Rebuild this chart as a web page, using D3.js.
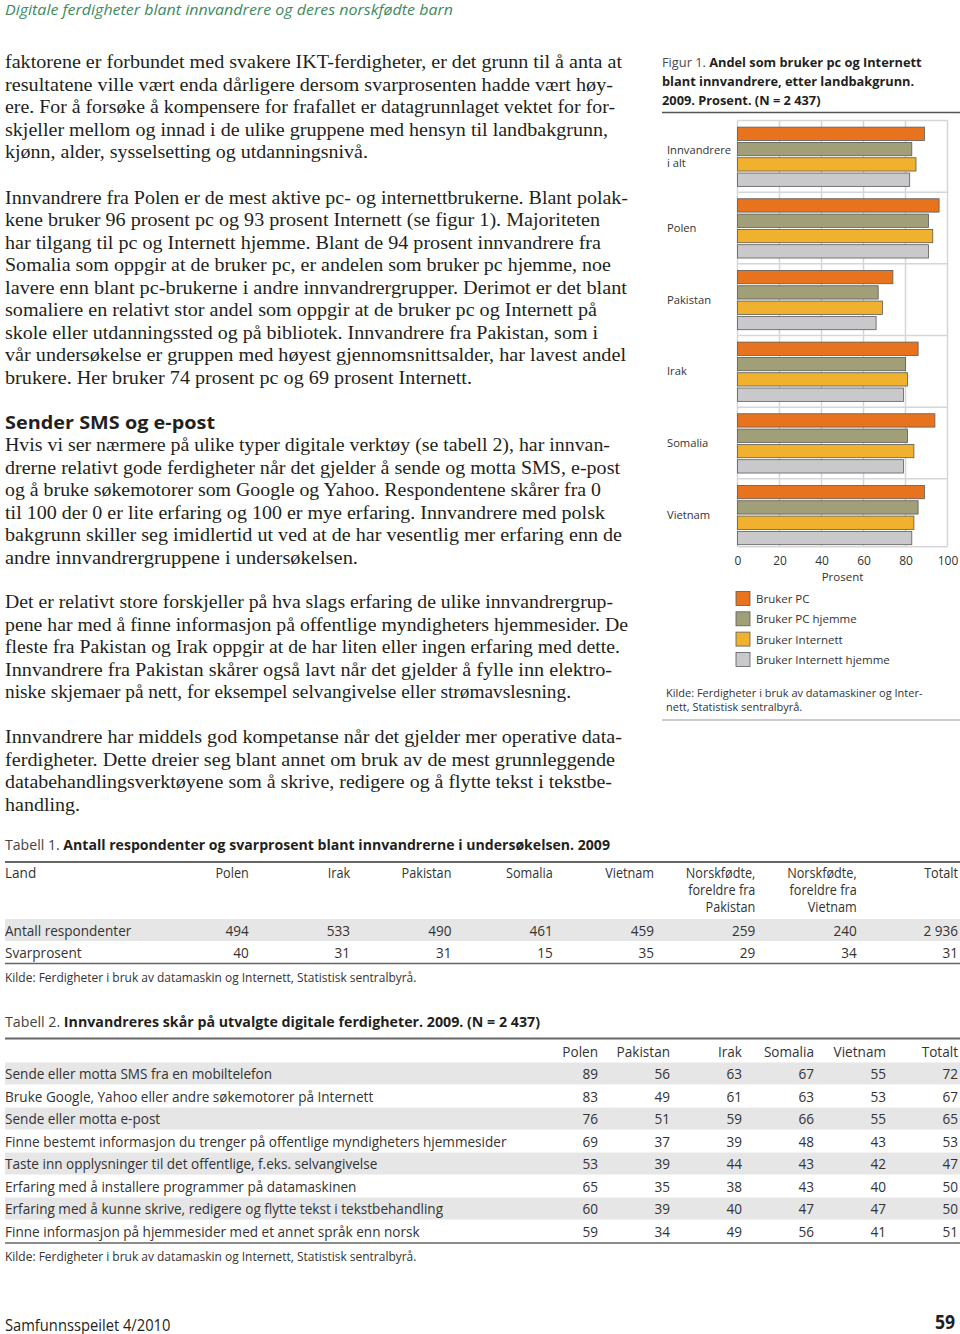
<!DOCTYPE html>
<html><head><meta charset="utf-8">
<script src="https://cdn.jsdelivr.net/npm/d3@7"></script>
<style>body{margin:0;background:#fff} svg{display:block}</style>
</head><body><svg id="page" width="960" height="1334"></svg>
<script>
// ---------- DATA ----------
const categories = ["Innvandrere i alt", "Polen", "Pakistan", "Irak", "Somalia", "Vietnam"];
const categoryLabels = [["Innvandrere", "i alt"], ["Polen"], ["Pakistan"], ["Irak"], ["Somalia"], ["Vietnam"]];
const seriesNames = ["Bruker PC", "Bruker PC hjemme", "Bruker Internett", "Bruker Internett hjemme"];
const brukerPC = [89, 96, 74, 86, 94, 89];
const brukerPCHjemme = [83, 91, 67, 80, 81, 86];
const brukerInternett = [85, 93, 69, 81, 84, 84];
const brukerInternettHjemme = [82, 91, 66, 79, 79, 83];
const xTicks = [0, 20, 40, 60, 80, 100];
const seriesColors = ["#e8731e", "#a09f78", "#f0b12e", "#c9c9cb"];

const t1Columns = ["Polen", "Irak", "Pakistan", "Somalia", "Vietnam", ["Norskfødte,", "foreldre fra", "Pakistan"], ["Norskfødte,", "foreldre fra", "Vietnam"], "Totalt"];
const t1Rows = ["Antall respondenter", "Svarprosent"];
const t1Antall = ["494", "533", "490", "461", "459", "259", "240", "2 936"];
const t1Svarprosent = [40, 31, 31, 15, 35, 29, 34, 31];

const t2Columns = ["Polen", "Pakistan", "Irak", "Somalia", "Vietnam", "Totalt"];
const t2Rows = [
  "Sende eller motta SMS fra en mobiltelefon",
  "Bruke Google, Yahoo eller andre søkemotorer på Internett",
  "Sende eller motta e-post",
  "Finne bestemt informasjon du trenger på offentlige myndigheters hjemmesider",
  "Taste inn opplysninger til det offentlige, f.eks. selvangivelse",
  "Erfaring med å installere programmer på datamaskinen",
  "Erfaring med å kunne skrive, redigere og flytte tekst i tekstbehandling",
  "Finne informasjon på hjemmesider med et annet språk enn norsk"
];
const t2Polen = [89, 83, 76, 69, 53, 65, 60, 59];
const t2Pakistan = [56, 49, 51, 37, 39, 35, 39, 34];
const t2Irak = [63, 61, 59, 39, 44, 38, 40, 49];
const t2Somalia = [67, 63, 66, 48, 43, 43, 47, 56];
const t2Vietnam = [55, 53, 55, 43, 42, 40, 47, 41];
const t2Totalt = [72, 67, 65, 53, 47, 50, 50, 51];

// ---------- BODY TEXT (text + right edge of line) ----------
const para1 = [
  ["faktorene er forbundet med svakere IKT-ferdigheter, er det grunn til å anta at", 622],
  ["resultatene ville vært enda dårligere dersom svarprosenten hadde vært høy-", 613],
  ["ere. For å forsøke å kompensere for frafallet er datagrunnlaget vektet for for-", 615],
  ["skjeller mellom og innad i de ulike gruppene med hensyn til landbakgrunn,", 608],
  ["kjønn, alder, sysselsetting og utdanningsnivå.", 368]
];
const para2 = [
  ["Innvandrere fra Polen er de mest aktive pc- og internettbrukerne. Blant polak-", 628],
  ["kene bruker 96 prosent pc og 93 prosent Internett (se figur 1). Majoriteten", 600],
  ["har tilgang til pc og Internett hjemme. Blant de 94 prosent innvandrere fra", 601],
  ["Somalia som oppgir at de bruker pc, er andelen som bruker pc hjemme, noe", 611],
  ["lavere enn blant pc-brukerne i andre innvandrergrupper. Derimot er det blant", 627],
  ["somaliere en relativt stor andel som oppgir at de bruker pc og Internett på", 597],
  ["skole eller utdanningssted og på bibliotek. Innvandrere fra Pakistan, som i", 598],
  ["vår undersøkelse er gruppen med høyest gjennomsnittsalder, har lavest andel", 626],
  ["brukere. Her bruker 74 prosent pc og 69 prosent Internett.", 472]
];
const para3 = [
  ["Hvis vi ser nærmere på ulike typer digitale verktøy (se tabell 2), har innvan-", 610],
  ["drerne relativt gode ferdigheter når det gjelder å sende og motta SMS, e-post", 620],
  ["og å bruke søkemotorer som Google og Yahoo. Respondentene skårer fra 0", 601],
  ["til 100 der 0 er lite erfaring og 100 er mye erfaring. Innvandrere med polsk", 605],
  ["bakgrunn skiller seg imidlertid ut ved at de har vesentlig mer erfaring enn de", 622],
  ["andre innvandrergruppene i undersøkelsen.", 358]
];
const para4 = [
  ["Det er relativt store forskjeller på hva slags erfaring de ulike innvandrergrup-", 613],
  ["pene har med å finne informasjon på offentlige myndigheters hjemmesider. De", 628],
  ["fleste fra Pakistan og Irak oppgir at de har liten eller ingen erfaring med dette.", 620],
  ["Innvandrere fra Pakistan skårer også lavt når det gjelder å fylle inn elektro-", 612],
  ["niske skjemaer på nett, for eksempel selvangivelse eller strømavslesning.", 571]
];
const para5 = [
  ["Innvandrere har middels god kompetanse når det gjelder mer operative data-", 622],
  ["ferdigheter. Dette dreier seg blant annet om bruk av de mest grunnleggende", 615],
  ["databehandlingsverktøyene som å skrive, redigere og å flytte tekst i tekstbe-", 612],
  ["handling.", 80]
];

// ---------- DRAW ----------
const svg = d3.select("#page");
const SERIF = "'Liberation Serif', 'DejaVu Serif', serif";
const SANS = "'Open Sans', 'Noto Sans', sans-serif";
const TXT = "#231f20";

// page header
svg.append("text").attr("x", 5).attr("y", 15)
  .attr("font-family", SANS).attr("font-style", "italic").attr("font-size", 14)
  .attr("fill", "#3e8a5e").attr("textLength", 448).attr("lengthAdjust", "spacingAndGlyphs")
  .text("Digitale ferdigheter blant innvandrere og deres norskfødte barn");

function paragraph(lines, y0) {
  lines.forEach(([t, right], i) => {
    svg.append("text").attr("x", 5).attr("y", y0 + i * 22.5)
      .attr("font-family", SERIF).attr("font-size", 18.5).attr("fill", TXT)
      .attr("textLength", right - 5).attr("lengthAdjust", "spacingAndGlyphs")
      .text(t);
  });
}
paragraph(para1, 68);
paragraph(para2, 203.5);
svg.append("text").attr("x", 5).attr("y", 428.5)
  .attr("font-family", SANS).attr("font-weight", "bold").attr("font-size", 17.5).attr("fill", TXT)
  .attr("textLength", 210).attr("lengthAdjust", "spacingAndGlyphs")
  .text("Sender SMS og e-post");
paragraph(para3, 451);
paragraph(para4, 608);
paragraph(para5, 743);

// ---------- FIGURE 1 ----------
const titleLines = [["Figur 1. ", "Andel som bruker pc og Internett"], ["", "blant innvandrere, etter landbakgrunn."], ["", "2009. Prosent. (N = 2 437)"]];
titleLines.forEach(([a, b], i) => {
  const t = svg.append("text").attr("x", 662).attr("y", 67 + i * 19)
    .attr("font-family", SANS).attr("font-size", 12.8).attr("fill", TXT);
  if (a) t.append("tspan").attr("fill", "#4a4a4a").text(a);
  t.append("tspan").attr("font-weight", "bold").text(b);
});
svg.append("line").attr("x1", 662).attr("x2", 960).attr("y1", 112.5).attr("y2", 112.5)
  .attr("stroke", "#555").attr("stroke-width", 1.3);

const x = d3.scaleLinear().domain([0, 100]).range([737.5, 947.5]);
const y0 = d3.scaleBand().domain(categories).range([120.5, 550.5]);
const y1 = d3.scaleBand().domain(seriesNames).range([6.6, y0.bandwidth() - 5.8]).paddingInner(0.13);
const plotBottom = y0(categories[categories.length - 1]) + y1(seriesNames[3]) + y1.bandwidth() + 2;

const grid = svg.append("g");
grid.selectAll("line.v").data(xTicks).join("line")
  .attr("x1", d => x(d)).attr("x2", d => x(d)).attr("y1", y0.range()[0]).attr("y2", plotBottom)
  .attr("stroke", "#d6d6d6").attr("stroke-width", 1.5);
grid.selectAll("line.h").data(categories).join("line")
  .attr("x1", x(0)).attr("x2", x(100)).attr("y1", d => y0(d)).attr("y2", d => y0(d))
  .attr("stroke", "#d6d6d6").attr("stroke-width", 1.5);
grid.append("line").attr("x1", x(0)).attr("x2", x(100)).attr("y1", plotBottom).attr("y2", plotBottom)
  .attr("stroke", "#d6d6d6").attr("stroke-width", 1.5);

const seriesValues = [brukerPC, brukerPCHjemme, brukerInternett, brukerInternettHjemme];
const barData = [];
categories.forEach((c, ci) => seriesNames.forEach((s, si) => barData.push({ c, s, si, v: seriesValues[si][ci] })));
svg.append("g").selectAll("rect").data(barData).join("rect")
  .attr("x", x(0)).attr("y", d => y0(d.c) + y1(d.s))
  .attr("width", d => x(d.v) - x(0)).attr("height", y1.bandwidth())
  .attr("fill", d => seriesColors[d.si]).attr("stroke", "#5a5a5a").attr("stroke-width", 0.8);

// category labels
categories.forEach((c, i) => {
  const lines = categoryLabels[i];
  const cy = y0(c) + y0.bandwidth() / 2;
  lines.forEach((l, j) => {
    svg.append("text").attr("x", 667).attr("y", cy + 4 + (j - (lines.length - 1) / 2) * 12.5)
      .attr("font-family", SANS).attr("font-size", 11.2).attr("fill", "#333").text(l);
  });
});

// x axis
const xAxis = svg.append("g").attr("transform", `translate(0,${plotBottom})`)
  .call(d3.axisBottom(x).tickValues(xTicks).tickSize(0).tickPadding(10));
xAxis.select(".domain").remove();
xAxis.selectAll("text").attr("font-family", SANS).attr("font-size", 12).attr("fill", "#333");
svg.append("text").attr("x", (x(0) + x(100)) / 2).attr("y", 580.5).attr("text-anchor", "middle")
  .attr("font-family", SANS).attr("font-size", 11.5).attr("fill", "#333").text("Prosent");

// legend
const lg = svg.append("g").selectAll("g").data(seriesNames).join("g")
  .attr("transform", (d, i) => `translate(736,${591.5 + i * 20.3})`);
lg.append("rect").attr("width", 14).attr("height", 14)
  .attr("fill", (d, i) => seriesColors[i]).attr("stroke", "#5a5a5a").attr("stroke-width", 0.8);
lg.append("text").attr("x", 20).attr("y", 11.5).attr("font-family", SANS).attr("font-size", 11.5)
  .attr("fill", "#333").text(d => d);

["Kilde: Ferdigheter i bruk av datamaskiner og Inter-", "nett, Statistisk sentralbyrå."].forEach((l, i) => {
  svg.append("text").attr("x", 666).attr("y", 697 + i * 14).attr("font-family", SANS)
    .attr("font-size", 11).attr("fill", "#333").text(l);
});
svg.append("line").attr("x1", 662).attr("x2", 960).attr("y1", 720).attr("y2", 720)
  .attr("stroke", "#9a9a9a").attr("stroke-width", 1.2);

// ---------- TABLES ----------
const SX = 0.905;
function ctext(xp, yp, str, anchor, opts = {}) {
  return svg.append("text").attr("transform", `translate(${xp},${yp}) scale(${opts.sx || SX},1)`)
    .attr("text-anchor", anchor || "start").attr("font-family", SANS)
    .attr("font-size", opts.size || 15).attr("font-weight", opts.weight || "normal")
    .attr("fill", opts.fill || "#333").text(str);
}
function tableTitle(yp, num, title, width) {
  const t = svg.append("text").attr("x", 5).attr("y", yp).attr("font-family", SANS)
    .attr("font-size", 14.5).attr("fill", TXT).attr("textLength", width).attr("lengthAdjust", "spacingAndGlyphs");
  t.append("tspan").attr("fill", "#444").text(num + " ");
  t.append("tspan").attr("font-weight", "bold").text(title);
}

// Table 1
tableTitle(850, "Tabell 1.", "Antall respondenter og svarprosent blant innvandrerne i undersøkelsen. 2009", 605);
svg.append("line").attr("x1", 5).attr("x2", 960).attr("y1", 862).attr("y2", 862).attr("stroke", "#666").attr("stroke-width", 2);
const c1 = d3.scaleBand().domain(d3.range(t1Columns.length)).range([147.5, 958]);
ctext(5, 878, "Land");
t1Columns.forEach((col, i) => {
  const lines = Array.isArray(col) ? col : [col];
  lines.forEach((l, j) => ctext(c1(i) + c1.bandwidth(), 878 + j * 17, l, "end", { size: 14 }));
});
svg.insert("rect", "text").attr("x", 5).attr("y", 919).attr("width", 955).attr("height", 22).attr("fill", "#e6e6e6");
const t1Values = [t1Antall, t1Svarprosent];
t1Rows.forEach((r, ri) => {
  const yp = 935.5 + ri * 22.5;
  ctext(5, yp, r);
  t1Values[ri].forEach((v, i) => ctext(c1(i) + c1.bandwidth(), yp, String(v), "end"));
});
svg.append("line").attr("x1", 5).attr("x2", 960).attr("y1", 963.5).attr("y2", 963.5).attr("stroke", "#666").attr("stroke-width", 1.5);
ctext(5, 982, "Kilde: Ferdigheter i bruk av datamaskin og Internett, Statistisk sentralbyrå.", "start", { size: 13, sx: 0.92 });

// Table 2
tableTitle(1027, "Tabell 2.", "Innvandreres skår på utvalgte digitale ferdigheter. 2009. (N = 2 437)", 535);
svg.append("line").attr("x1", 5).attr("x2", 960).attr("y1", 1038.5).attr("y2", 1038.5).attr("stroke", "#666").attr("stroke-width", 2);
const c2 = d3.scaleBand().domain(t2Columns).range([526, 958]);
t2Columns.forEach(col => ctext(c2(col) + c2.bandwidth(), 1056.5, col, "end"));
const t2Values = [t2Polen, t2Pakistan, t2Irak, t2Somalia, t2Vietnam, t2Totalt];
const rowY = d3.scaleLinear().domain([0, 1]).range([1073.5, 1096]);
t2Rows.forEach((r, ri) => {
  if (ri % 2 === 0) svg.insert("rect", "text").attr("x", 5).attr("y", rowY(ri) - 11).attr("width", 955).attr("height", 22).attr("fill", "#e6e6e6");
});
t2Rows.forEach((r, ri) => {
  const yp = rowY(ri) + 5.5;
  ctext(5, yp, r);
  t2Columns.forEach((col, ci) => ctext(c2(col) + c2.bandwidth(), yp, String(t2Values[ci][ri]), "end"));
});
svg.append("line").attr("x1", 5).attr("x2", 960).attr("y1", 1243).attr("y2", 1243).attr("stroke", "#666").attr("stroke-width", 1.5);
ctext(5, 1260.5, "Kilde: Ferdigheter i bruk av datamaskin og Internett, Statistisk sentralbyrå.", "start", { size: 13, sx: 0.92 });

// footer
ctext(5, 1330.5, "Samfunnsspeilet 4/2010", "start", { size: 15.5, fill: TXT, sx: 0.95 });
ctext(955, 1329, "59", "end", { size: 20, weight: "bold", fill: TXT, sx: 0.88 });
</script></body></html>
